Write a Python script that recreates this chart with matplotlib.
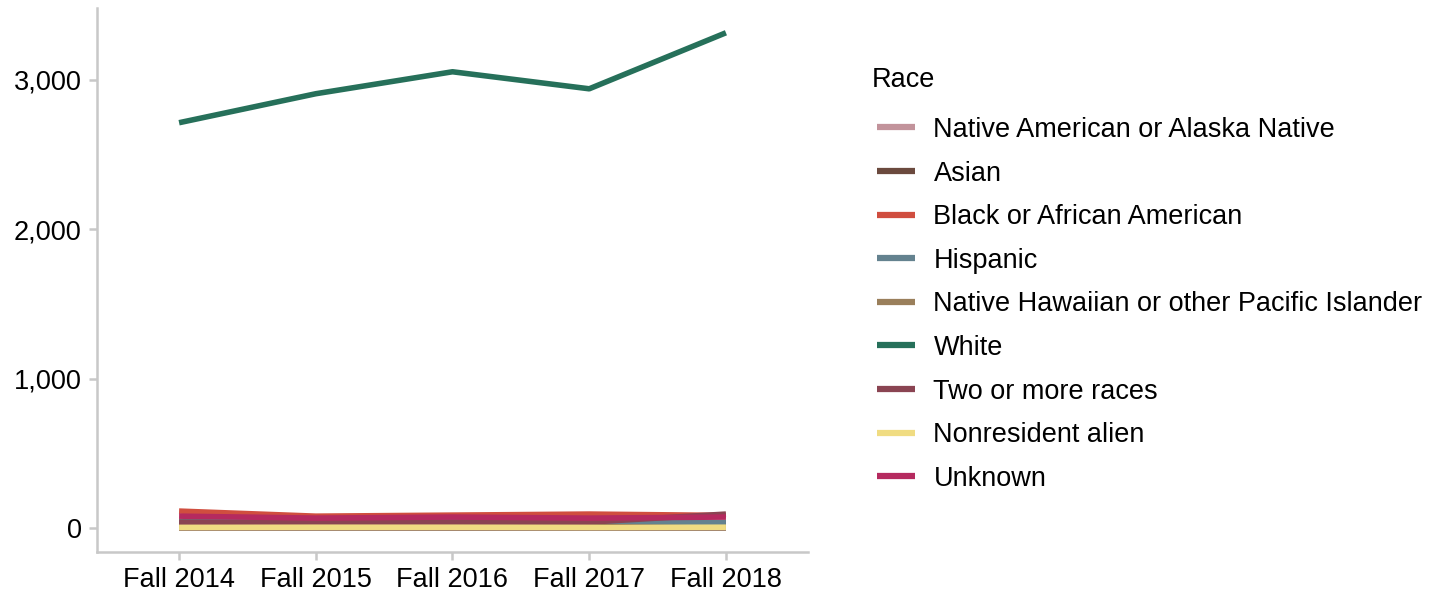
import matplotlib.pyplot as plt
from matplotlib.ticker import FuncFormatter

plt.rcParams['font.family'] = ['Liberation Sans', 'DejaVu Sans']

terms = ["Fall 2014", "Fall 2015", "Fall 2016", "Fall 2017", "Fall 2018"]

native_american = [1, 2, 1, 2, 1]
asian = [30, 28, 30, 32, 38]
black = [114, 80, 87, 94, 85]
hispanic = [45, 42, 46, 48, 36]
pacific_islander = [1, 1, 1, 1, 1]
white = [2713, 2907, 3054, 2940, 3315]
two_or_more = [40, 35, 40, 40, 94]
nonresident = [5, 6, 6, 5, 6]
unknown = [80, 67, 74, 67, 74]

series = [
    ("Native American or Alaska Native", native_american, "#c2939b"),
    ("Asian", asian, "#6b4a3e"),
    ("Black or African American", black, "#d04e3f"),
    ("Hispanic", hispanic, "#64828f"),
    ("Native Hawaiian or other Pacific Islander", pacific_islander, "#9a7f5b"),
    ("White", white, "#26705a"),
    ("Two or more races", two_or_more, "#8a4452"),
    ("Nonresident alien", nonresident, "#f0dc82"),
    ("Unknown", unknown, "#b52a5f"),
]

fs = 19.5

fig = plt.figure(figsize=(14.42, 6.01), dpi=100)
ax = fig.add_axes([0.0673, 0.0815, 0.493, 0.905])

x = range(len(terms))
for name, vals, col in series:
    ax.plot(x, vals, color=col, lw=4, label=name, solid_capstyle='butt')

ax.set_xlim(-0.6, 4.6)
ax.set_ylim(-160, 3480)
ax.set_xticks(list(x))
ax.set_xticklabels(terms)
ax.set_yticks([0, 1000, 2000, 3000])
ax.yaxis.set_major_formatter(FuncFormatter(lambda v, p: f"{int(v):,}"))

grey = "#c8c8c8"
for s in ["top", "right"]:
    ax.spines[s].set_visible(False)
for s in ["left", "bottom"]:
    ax.spines[s].set_color(grey)
    ax.spines[s].set_linewidth(1.8)
ax.tick_params(axis='both', colors=grey, labelcolor='black', labelsize=fs,
               length=6, width=1.8, pad=5)

# legend title drawn separately so the gap above the entries can be set
fig.text(0.6045, 0.855, "Race", fontsize=fs, ha='left', va='baseline')
leg = ax.legend(loc='upper left', bbox_to_anchor=(0.591, 0.846),
                bbox_transform=fig.transFigure, frameon=False, fontsize=fs,
                handlelength=1.4, handletextpad=0.7, labelspacing=0.65)
for h in leg.get_lines():
    h.set_linewidth(4.5)

fig.savefig("out.png", dpi=100)
